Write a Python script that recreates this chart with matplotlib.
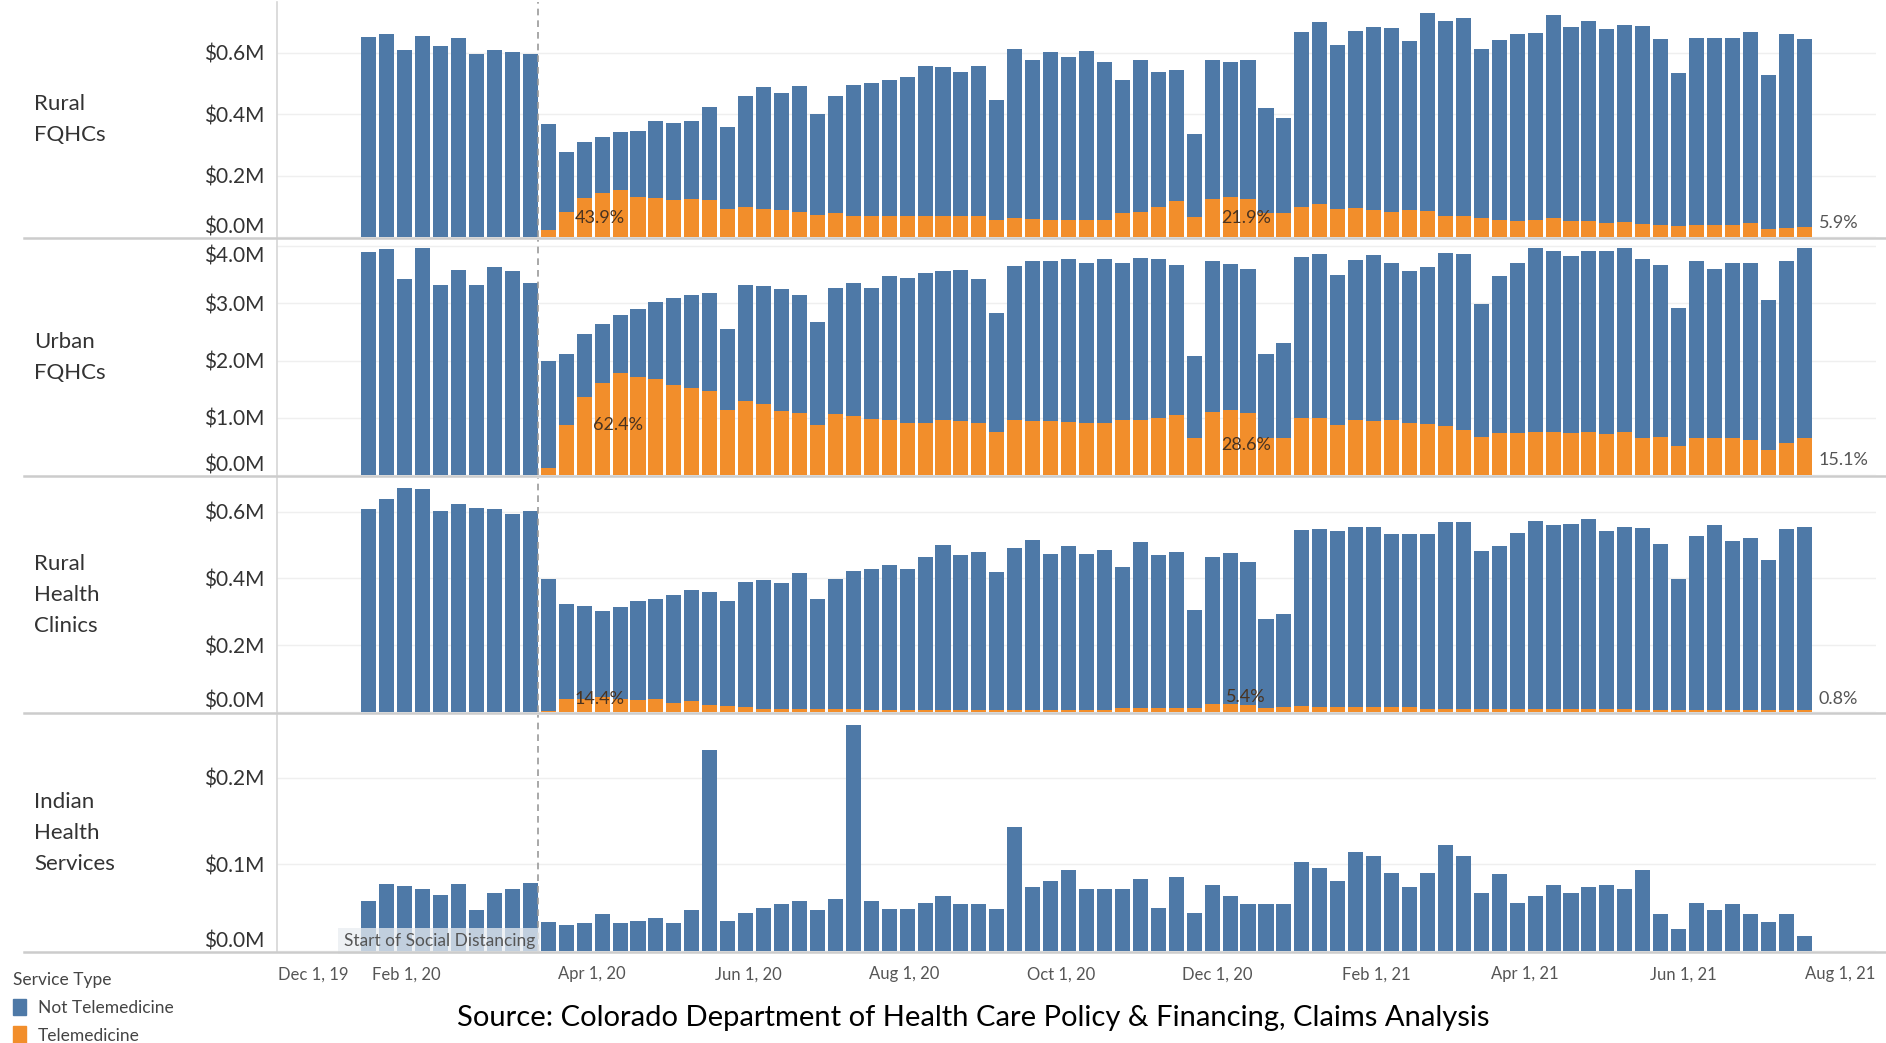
import matplotlib
matplotlib.use('Agg')
import matplotlib.pyplot as plt
from matplotlib.lines import Line2D
from matplotlib.patches import Patch
import numpy as np

plt.rcParams['font.family'] = ['Lato', 'DejaVu Sans']

BLUE = '#4e79a7'
ORANGE = '#f28e2b'

# weekly bars: week of Jan 5 2020 (index 0) .. week of Jul 18 2021 (index 80)
weeks = np.arange(81)
distancing_x = 9.45

tick_pos = [-3.1, 2.1, 12.43, 21.14, 29.86, 38.57, 47.29, 56.14, 64.43, 73.29, 82.0]
tick_labels = ['Dec 1, 19', 'Feb 1, 20', 'Apr 1, 20', 'Jun 1, 20', 'Aug 1, 20', 'Oct 1, 20',
               'Dec 1, 20', 'Feb 1, 21', 'Apr 1, 21', 'Jun 1, 21', 'Aug 1, 21']

# $M per week, total paid and telemedicine part
rural_fqhc_total = [
    0.652, 0.663, 0.609, 0.656, 0.623, 0.648, 0.595, 0.609, 0.604, 0.595,
    0.369, 0.278, 0.31, 0.327, 0.341, 0.345,
    0.379, 0.373, 0.379, 0.423, 0.36, 0.46, 0.488, 0.468, 0.492, 0.401,
    0.46, 0.496, 0.501, 0.512, 0.521, 0.559, 0.553, 0.539, 0.559, 0.445,
    0.612, 0.577, 0.602, 0.586, 0.607, 0.572, 0.512, 0.577, 0.539, 0.545,
    0.336, 0.577, 0.57, 0.577, 0.422, 0.387, 0.667,
    0.701, 0.626, 0.672, 0.686, 0.68, 0.64, 0.729, 0.705, 0.715, 0.614,
    0.642, 0.662, 0.666, 0.724, 0.686, 0.705, 0.677, 0.691, 0.688, 0.645,
    0.536, 0.648, 0.648, 0.648, 0.667, 0.528, 0.662, 0.645]
rural_fqhc_tele = [
    0, 0, 0, 0, 0, 0, 0, 0, 0, 0,
    0.022, 0.083, 0.127, 0.143, 0.154, 0.132,
    0.128, 0.121, 0.125, 0.121, 0.091, 0.099, 0.092, 0.088, 0.082, 0.073,
    0.079, 0.068, 0.068, 0.068, 0.068, 0.068, 0.068, 0.068, 0.068, 0.055,
    0.061, 0.058, 0.055, 0.055, 0.055, 0.055, 0.077, 0.082, 0.099, 0.117,
    0.066, 0.124, 0.129, 0.125, 0.077, 0.077, 0.099,
    0.107, 0.092, 0.096, 0.088, 0.082, 0.088, 0.085, 0.068, 0.068, 0.061,
    0.055, 0.053, 0.055, 0.061, 0.053, 0.053, 0.045, 0.05, 0.042, 0.039,
    0.036, 0.039, 0.039, 0.039, 0.045, 0.025, 0.029, 0.034]

urban_fqhc_total = [
    3.9, 3.95, 3.43, 3.97, 3.32, 3.59, 3.32, 3.63, 3.56, 3.36,
    2.0, 2.11, 2.46, 2.64, 2.79, 2.9,
    3.02, 3.09, 3.15, 3.18, 2.56, 3.33, 3.3, 3.25, 3.15, 2.68,
    3.27, 3.36, 3.27, 3.48, 3.45, 3.53, 3.56, 3.59, 3.43, 2.84,
    3.65, 3.75, 3.75, 3.78, 3.71, 3.78, 3.71, 3.8, 3.78, 3.68,
    2.08, 3.74, 3.69, 3.6, 2.12, 2.3, 3.81,
    3.87, 3.5, 3.76, 3.84, 3.71, 3.56, 3.64, 3.89, 3.87, 2.99,
    3.48, 3.71, 3.97, 3.92, 3.83, 3.91, 3.91, 3.97, 3.78, 3.68,
    2.92, 3.74, 3.61, 3.71, 3.71, 3.06, 3.74, 3.97]
urban_fqhc_tele = [
    0, 0, 0, 0, 0, 0, 0, 0, 0, 0,
    0.12, 0.87, 1.36, 1.61, 1.78, 1.71,
    1.68, 1.58, 1.52, 1.47, 1.14, 1.3, 1.24, 1.12, 1.09, 0.87,
    1.06, 1.04, 0.98, 0.96, 0.91, 0.91, 0.97, 0.94, 0.91, 0.76,
    0.96, 0.94, 0.94, 0.93, 0.91, 0.91, 0.97, 0.96, 1.0, 1.05,
    0.64, 1.11, 1.14, 1.08, 0.64, 0.65, 1.0,
    1.0, 0.87, 0.96, 0.94, 0.96, 0.91, 0.9, 0.86, 0.78, 0.66,
    0.74, 0.74, 0.76, 0.75, 0.74, 0.75, 0.71, 0.75, 0.65, 0.66,
    0.5, 0.64, 0.64, 0.64, 0.61, 0.43, 0.56, 0.64]

rhc_total = [
    0.607, 0.639, 0.672, 0.667, 0.602, 0.624, 0.61, 0.607, 0.594, 0.602,
    0.397, 0.325, 0.317, 0.302, 0.315, 0.332,
    0.34, 0.35, 0.364, 0.359, 0.332, 0.389, 0.394, 0.385, 0.415, 0.34,
    0.397, 0.422, 0.427, 0.44, 0.427, 0.465, 0.5, 0.47, 0.48, 0.419,
    0.492, 0.515, 0.474, 0.497, 0.474, 0.484, 0.435, 0.51, 0.47, 0.48,
    0.305, 0.465, 0.475, 0.449, 0.279, 0.295, 0.545,
    0.547, 0.542, 0.554, 0.554, 0.532, 0.532, 0.532, 0.569, 0.569, 0.482,
    0.497, 0.537, 0.572, 0.559, 0.564, 0.577, 0.542, 0.554, 0.55, 0.502,
    0.399, 0.527, 0.559, 0.512, 0.52, 0.455, 0.547, 0.554]
rhc_tele = [
    0, 0, 0, 0, 0, 0, 0, 0, 0, 0,
    0.004, 0.038, 0.04, 0.044, 0.04, 0.036,
    0.038, 0.028, 0.034, 0.021, 0.018, 0.016, 0.008, 0.008, 0.008, 0.008,
    0.008, 0.008, 0.006, 0.006, 0.006, 0.006, 0.006, 0.006, 0.006, 0.006,
    0.006, 0.006, 0.006, 0.006, 0.006, 0.006, 0.011, 0.011, 0.011, 0.011,
    0.011, 0.023, 0.025, 0.022, 0.011, 0.014, 0.018,
    0.016, 0.016, 0.016, 0.016, 0.016, 0.016, 0.01, 0.01, 0.01, 0.01,
    0.01, 0.01, 0.01, 0.01, 0.008, 0.008, 0.008, 0.008, 0.006, 0.006,
    0.006, 0.006, 0.006, 0.005, 0.005, 0.005, 0.005, 0.005]

ihs_total = [
    0.058, 0.077, 0.075, 0.072, 0.065, 0.077, 0.047, 0.067, 0.072, 0.078,
    0.033, 0.03, 0.032, 0.043, 0.032, 0.035, 0.038, 0.032,
    0.047, 0.232, 0.035, 0.044, 0.05, 0.054, 0.058, 0.047, 0.06, 0.261,
    0.058, 0.049, 0.049, 0.056, 0.063, 0.054, 0.054, 0.049, 0.143, 0.074,
    0.081, 0.093, 0.072, 0.072, 0.072, 0.083, 0.05, 0.086, 0.044, 0.076,
    0.064, 0.054, 0.054, 0.054, 0.103, 0.096, 0.081, 0.114, 0.11, 0.09,
    0.074, 0.09, 0.122, 0.11, 0.067, 0.089, 0.056, 0.064, 0.076, 0.067,
    0.074, 0.076, 0.072, 0.093, 0.043, 0.025, 0.056, 0.047, 0.054, 0.043,
    0.033, 0.043, 0.017]
ihs_tele = [0] * 81

# label, totals, tele, y ticks, y max, percent notes (x, y, text, align)
panels = [
    ('Rural\nFQHCs', rural_fqhc_total, rural_fqhc_tele, [0, 0.2, 0.4, 0.6], 0.766,
     [(12.85, 0.062, '43.9%', 'center'), (48.9, 0.062, '21.9%', 'center'), (80.8, 0.045, '5.9%', 'left')]),
    ('Urban\nFQHCs', urban_fqhc_total, urban_fqhc_tele, [0, 1, 2, 3, 4], 4.11,
     [(13.9, 0.88, '62.4%', 'center'), (48.9, 0.52, '28.6%', 'center'), (80.8, 0.27, '15.1%', 'left')]),
    ('Rural\nHealth\nClinics', rhc_total, rhc_tele, [0, 0.2, 0.4, 0.6], 0.701,
     [(12.85, 0.039, '14.4%', 'center'), (48.9, 0.045, '5.4%', 'center'), (80.8, 0.039, '0.8%', 'left')]),
    ('Indian\nHealth\nServices', ihs_total, ihs_tele, [0, 0.1, 0.2], 0.2725, []),
]

W, H = 1886, 1043
fig = plt.figure(figsize=(W / 100, H / 100), dpi=100)

# pixel rows of each pane (top, zero line)
rows = [(2, 237), (240, 475), (478, 712), (715, 951)]
left_px, right_px = 277, 1876

for i, (name, total, tele, yt, ymax, notes) in enumerate(panels):
    top, bottom = rows[i]
    ax = fig.add_axes([left_px / W, 1 - bottom / H, (right_px - left_px) / W, (bottom - top) / H])
    total = np.array(total)
    tele = np.array(tele)
    ax.bar(weeks, tele, width=0.84, color=ORANGE, linewidth=0, zorder=2)
    ax.bar(weeks, total - tele, bottom=tele, width=0.84, color=BLUE, linewidth=0, zorder=2)
    ax.set_xlim(-5.12, 84.0)
    ax.set_ylim(0, ymax)
    ax.set_yticks(yt)
    ax.set_yticklabels(['${:.1f}M'.format(v) for v in yt], fontsize=15, color='#333333')
    labs = ax.get_yticklabels()
    labs[0].set_va('bottom')
    if name.startswith('Urban'):
        labs[-1].set_va('top')
    ax.tick_params(axis='y', length=0, pad=9)
    ax.grid(axis='y', color='#efefef', lw=1, zorder=0)
    ax.axvline(distancing_x, color='#9a9a9a', lw=1.2, ls=(0, (4, 3)), zorder=3)
    for s in ['top', 'right', 'bottom']:
        ax.spines[s].set_visible(False)
    ax.spines['left'].set_color('#d6d6d6')
    ax.spines['left'].set_linewidth(1.2)
    ax.set_xticks(tick_pos)
    if i < 3:
        ax.tick_params(axis='x', length=0, labelbottom=False)
    else:
        ax.set_xticklabels(tick_labels, fontsize=12, color='#555555')
        ax.tick_params(axis='x', length=0, pad=11)
        ax.text(distancing_x - 0.2, 0.0025, 'Start of Social Distancing', ha='right', va='bottom',
                fontsize=12.5, color='#555555', zorder=4,
                bbox=dict(boxstyle='square,pad=0.3', fc='#e9edf1', ec='none', alpha=0.75))
    for x, y, txt, ha in notes:
        col = '#555555' if ha == 'left' else '#4a3320'
        ax.text(x, y, txt, ha=ha, va='center', fontsize=13, color=col, zorder=4)

    fig.text(34 / W, 1 - (top + bottom) / 2 / H, name, ha='left', va='center',
             fontsize=16, color='#333333', linespacing=1.7)
    fig.add_artist(Line2D([24 / W, 1], [1 - (bottom + 1) / H] * 2, color='#cccccc', lw=1.8))

handles = [Patch(color=BLUE), Patch(color=ORANGE)]
leg = fig.legend(handles, ['Not Telemedicine', 'Telemedicine'], title='Service Type',
                 loc='upper left', bbox_to_anchor=(0.004, 1 - 967 / H), frameon=False,
                 fontsize=12.5, title_fontsize=12.5, handlelength=0.75, handleheight=1.1,
                 handletextpad=0.7, labelspacing=0.6, borderaxespad=0.0, borderpad=0.3)
leg._legend_box.align = 'left'
for t in leg.get_texts():
    t.set_color('#444444')
leg.get_title().set_color('#444444')

fig.text(0.516, 1 - 1018 / H,
         'Source: Colorado Department of Health Care Policy & Financing, Claims Analysis',
         ha='center', va='center', fontsize=21, color='black')

fig.savefig('out.png', dpi=100)
